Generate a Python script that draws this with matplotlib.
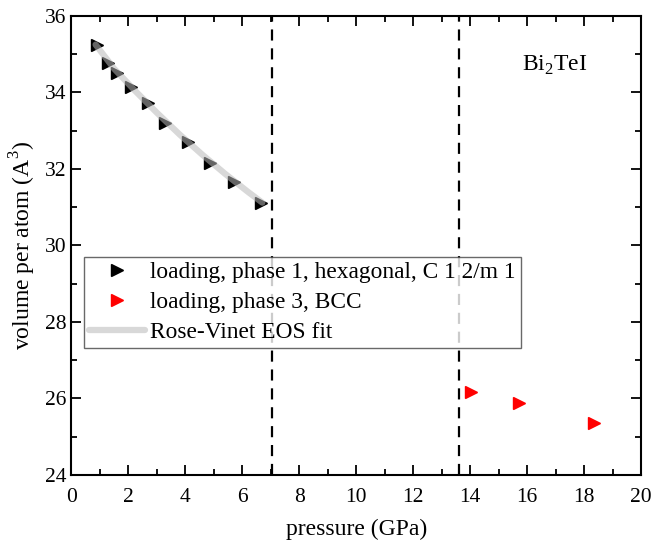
import matplotlib
matplotlib.use("Agg")
import matplotlib.pyplot as plt
from matplotlib.ticker import MultipleLocator

plt.rcParams['font.family'] = ['Liberation Serif', 'DejaVu Serif']
plt.rcParams['mathtext.fontset'] = 'custom'
plt.rcParams['mathtext.rm'] = 'Liberation Serif'

# phase 1 (hexagonal) loading data
p1_pressure = [0.90, 1.29, 1.61, 2.10, 2.68, 3.30, 4.09, 4.86, 5.70, 6.64]
p1_volume = [35.24, 34.76, 34.50, 34.15, 33.73, 33.21, 32.71, 32.15, 31.67, 31.12]

# phase 3 (BCC) loading data
p3_pressure = [14.02, 15.72, 18.33]
p3_volume = [26.17, 25.88, 25.35]

# Rose-Vinet fit curve
fit_pressure = [0.85, 1.5, 2.2, 3.0, 3.8, 4.6, 5.4, 6.2, 6.7]
fit_volume = [35.25, 34.62, 34.07, 33.47, 32.90, 32.37, 31.87, 31.40, 31.12]

# phase boundaries
boundaries = [7.05, 13.6]

fig = plt.figure(figsize=(6.55, 5.42), dpi=100)
ax = fig.add_axes([0.109, 0.1236, 0.870, 0.847])

for b in boundaries:
    ax.axvline(b, color='black', lw=1.6, ls=(0, (5, 3.5)))

ax.plot(p1_pressure, p1_volume, '>', color='black', ms=9, ls='none',
        label='loading, phase 1, hexagonal, C 1 2/m 1')
ax.plot(p3_pressure, p3_volume, '>', color='red', ms=9, ls='none',
        label='loading, phase 3, BCC')
ax.plot(fit_pressure, fit_volume, color='#b8b8b8', alpha=0.55, lw=4.5,
        solid_capstyle='round', label='Rose-Vinet EOS fit')

ax.set_xlim(0, 20)
ax.set_ylim(24, 36)
ax.xaxis.set_major_locator(MultipleLocator(2))
ax.xaxis.set_minor_locator(MultipleLocator(1))
ax.yaxis.set_major_locator(MultipleLocator(2))
ax.yaxis.set_minor_locator(MultipleLocator(1))
ax.tick_params(which='both', direction='in', top=True, right=True, width=1.3,
               labelsize=15.5)
ax.tick_params(which='major', length=7)
ax.tick_params(which='minor', length=4)
ax.tick_params(axis='x', pad=9)
for s in ax.spines.values():
    s.set_linewidth(1.5)

ax.set_xlabel('pressure (GPa)', fontsize=17, labelpad=9)
ax.set_ylabel(r'volume per atom (A$^3$)', fontsize=17, labelpad=5)

ax.text(15.8, 34.57, r'Bi$_2$TeI', fontsize=17, va='baseline')

leg = ax.legend(loc='upper left', bbox_to_anchor=(0.022, 0.475), fontsize=16.8,
                frameon=True, fancybox=False, edgecolor='#444444',
                handlelength=2.4, handletextpad=0.25, borderpad=0.2,
                labelspacing=0.38, borderaxespad=0)
leg.get_frame().set_linewidth(1.0)

fig.savefig('out.png', dpi=100)
